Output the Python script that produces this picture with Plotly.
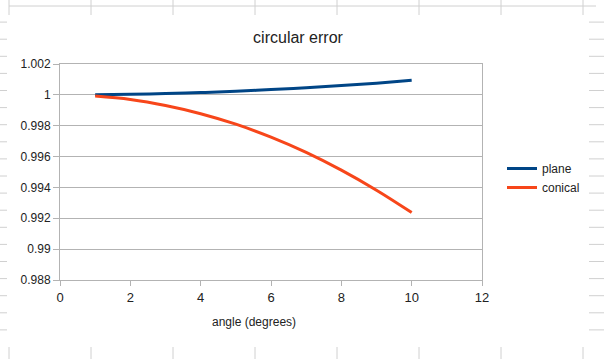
import plotly.graph_objects as go

# ---- data ----
angle_deg = [1, 2, 3, 4, 5, 6, 7, 8, 9, 10]
plane = [1.00001, 1.00004, 1.00008, 1.00015, 1.00023, 1.00034, 1.00046, 1.00060, 1.00076, 1.00094]
conical = [0.99992, 0.99970, 0.99931, 0.99878, 0.99810, 0.99726, 0.99627, 0.99512, 0.99382, 0.99237]
x_ticks = [0, 2, 4, 6, 8, 10, 12]
y_ticks = [0.988, 0.99, 0.992, 0.994, 0.996, 0.998, 1, 1.002]
y_tick_text = ["0.988", "0.99", "0.992", "0.994", "0.996", "0.998", "1", "1.002"]

W, H = 604, 359
L, R, T, B = 60, 482, 64, 280  # plot area in pixels


def px(x):
    return (x - L) / (R - L)


def py(y):
    return (B - y) / (B - T)


FONT = "Liberation Sans, Arial, sans-serif"
TXT = "#222222"
GRID = "#b3b3b3"
CELL = "#d0d0d0"

fig = go.Figure()
fig.add_trace(go.Scatter(x=angle_deg, y=plane, mode="lines", name="plane",
                         line=dict(color="#004586", width=3, shape="spline")))
fig.add_trace(go.Scatter(x=angle_deg, y=conical, mode="lines", name="conical",
                         line=dict(color="#f7461a", width=3, shape="spline")))

# spreadsheet cell borders visible around the chart (decoration)
shapes = []
rows = [5 + 17.1 * k for k in range(1, 20)]
cols = [9 + 82 * k for k in range(0, 8)]
for yy in rows:
    shapes.append(dict(type="line", xref="paper", yref="paper", x0=px(0), x1=px(7),
                       y0=py(yy), y1=py(yy), line=dict(color=CELL, width=1), layer="below"))
    shapes.append(dict(type="line", xref="paper", yref="paper", x0=px(589), x1=px(604),
                       y0=py(yy), y1=py(yy), line=dict(color=CELL, width=1), layer="below"))
for xx in cols:
    shapes.append(dict(type="line", xref="paper", yref="paper", x0=px(xx), x1=px(xx),
                       y0=py(0), y1=py(15), line=dict(color=CELL, width=1), layer="below"))
    shapes.append(dict(type="line", xref="paper", yref="paper", x0=px(xx), x1=px(xx),
                       y0=py(347), y1=py(359), line=dict(color=CELL, width=1), layer="below"))
shapes.append(dict(type="line", xref="paper", yref="paper", x0=px(9), x1=px(596),
                   y0=py(6), y1=py(6), line=dict(color=CELL, width=1), layer="below"))

fig.update_layout(
    width=W, height=H,
    margin=dict(l=L, r=W - R, t=T, b=H - B, pad=0),
    paper_bgcolor="white", plot_bgcolor="white",
    font=dict(family=FONT, size=12, color=TXT),
    title=dict(text="circular error", x=298 / W, xanchor="center", y=1 - 37 / H, yanchor="middle",
               font=dict(size=16, color=TXT)),
    showlegend=True,
    legend=dict(x=px(502), xanchor="left", y=py(178), yanchor="middle",
                font=dict(size=12, color=TXT), bgcolor="rgba(0,0,0,0)",
                itemwidth=30, tracegroupgap=0),
    shapes=shapes,
    annotations=[dict(text="angle (degrees)", xref="paper", yref="paper", x=px(254), y=py(322),
                      xanchor="center", yanchor="middle", showarrow=False,
                      font=dict(size=12, color=TXT))],
)
fig.update_xaxes(range=[0, 12], tickvals=x_ticks, ticktext=[str(v) for v in x_ticks],
                 showgrid=False, zeroline=False, showline=True, linecolor=GRID, linewidth=1,
                 mirror=True, ticks="outside", ticklen=5, tickcolor=GRID,
                 tickfont=dict(size=13, color=TXT, family=FONT))
fig.update_yaxes(range=[0.988, 1.002], tickvals=y_ticks, ticktext=y_tick_text,
                 showgrid=True, gridcolor=GRID, gridwidth=1, zeroline=False,
                 showline=True, linecolor=GRID, linewidth=1, mirror=True,
                 ticks="outside", ticklen=6, tickcolor=GRID,
                 tickfont=dict(size=12, color=TXT, family=FONT))

fig.write_html("out.html", config={"displayModeBar": False},
               post_script="document.body.style.margin='0px';")
